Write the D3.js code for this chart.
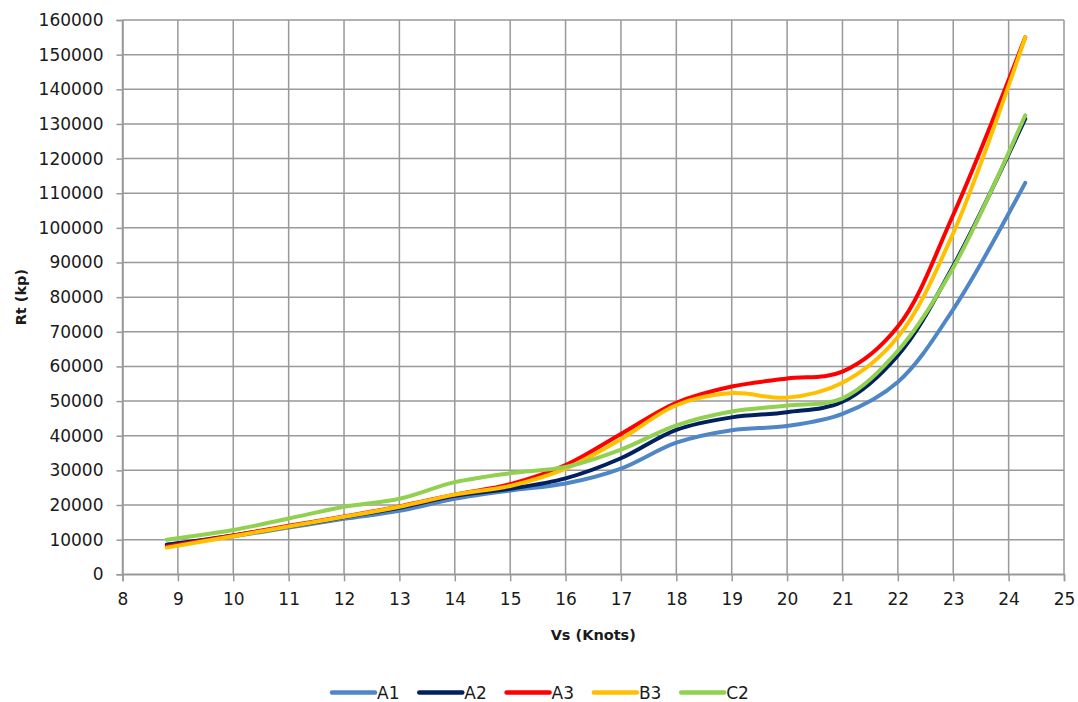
<!DOCTYPE html>
<html>
<head>
<meta charset="utf-8">
<script src="https://cdn.jsdelivr.net/npm/d3@7"></script>
<style>
  html, body { margin: 0; padding: 0; background: #fff; }
  svg { display: block; }
  text { font-family: "DejaVu Sans", sans-serif; fill: #1a1a1a; }
</style>
</head>
<body>
<svg id="chart" width="1078" height="702"></svg>
<script>
// ---- data ----
const speeds = [8.8, 10, 11, 12, 13, 14, 15, 16, 17, 18, 19, 20, 21, 22, 23, 24.3];
const seriesNames = ["A1", "A2", "A3", "B3", "C2"];
const A1 = [8500, 11000, 13500, 16000, 18300, 21800, 24200, 26200, 30500, 38000, 41600, 42800, 46300, 55500, 76500, 113000];
const A2 = [8500, 11200, 13800, 16500, 19200, 22700, 24700, 27700, 33500, 41700, 45300, 46800, 49800, 63200, 89000, 131500];
const A3 = [8000, 11200, 14000, 16700, 19600, 23000, 26000, 31500, 40500, 49500, 54200, 56500, 58500, 71500, 103800, 155000];
const B3 = [7700, 11000, 13800, 16600, 19500, 23000, 25500, 30500, 39000, 48800, 52300, 51000, 55300, 68500, 98500, 155000];
const C2 = [10000, 12800, 16100, 19500, 21800, 26600, 29200, 31000, 36000, 43000, 47000, 48700, 50800, 64500, 88500, 132500];
const seriesColors = ["#4F86C6", "#002060", "#FF0000", "#FFC000", "#92D050"];
const xTicks = d3.range(8, 26, 1);
const yTicks = d3.range(0, 160001, 10000);

const seriesValues = [A1, A2, A3, B3, C2];
const series = seriesNames.map((name, i) => ({
  name, color: seriesColors[i],
  points: speeds.map((s, j) => ({ x: s, y: seriesValues[i][j] }))
}));

// ---- layout ----
const svg = d3.select("#chart");
const plotL = 122.5, plotR = 1064, plotT = 20, plotB = 574.3;
const x = d3.scaleLinear().domain([8, 25]).range([plotL, plotR]);
const y = d3.scaleLinear().domain([0, 160000]).range([plotB, plotT]);

const gridColor = "#999999";

// grid
svg.append("g").selectAll("line").data(xTicks).join("line")
  .attr("x1", d => x(d)).attr("x2", d => x(d))
  .attr("y1", plotT).attr("y2", plotB)
  .attr("stroke", gridColor).attr("stroke-width", 1.5);
svg.append("g").selectAll("line").data(yTicks).join("line")
  .attr("x1", plotL).attr("x2", plotR)
  .attr("y1", d => y(d)).attr("y2", d => y(d))
  .attr("stroke", gridColor).attr("stroke-width", 1.5);

// axes
const xAxis = d3.axisBottom(x).tickValues(xTicks).tickSize(7).tickPadding(12).tickFormat(d3.format("d"));
const gx = svg.append("g").attr("transform", `translate(0,${plotB})`).call(xAxis);
gx.select(".domain").attr("stroke", gridColor).attr("stroke-width", 1.5);
gx.selectAll(".tick line").attr("stroke", gridColor).attr("stroke-width", 1.5);
gx.selectAll(".tick text").attr("font-size", 17).attr("font-family", "DejaVu Sans").attr("fill", "#1a1a1a");

const yAxis = d3.axisLeft(y).tickValues(yTicks).tickSize(6).tickPadding(13).tickFormat(d3.format("d"));
const gy = svg.append("g").attr("transform", `translate(${plotL},0)`).call(yAxis);
gy.select(".domain").attr("stroke", gridColor).attr("stroke-width", 1.5);
gy.selectAll(".tick line").attr("stroke", gridColor).attr("stroke-width", 1.5);
gy.selectAll(".tick text").attr("font-size", 17).attr("font-family", "DejaVu Sans").attr("fill", "#1a1a1a");

// axis titles
svg.append("text")
  .attr("x", (plotL + plotR) / 2).attr("y", 640)
  .attr("text-anchor", "middle").attr("font-size", 14.5).attr("font-weight", "bold")
  .text("Vs (Knots)");
svg.append("text")
  .attr("transform", `translate(26,${(plotT + plotB) / 2}) rotate(-90)`)
  .attr("text-anchor", "middle").attr("font-size", 14.5).attr("font-weight", "bold")
  .text("Rt (kp)");

// lines
const line = d3.line().x(d => x(d.x)).y(d => y(d.y)).curve(d3.curveCatmullRom.alpha(0.5));
svg.append("g").selectAll("path").data(series).join("path")
  .attr("d", d => line(d.points))
  .attr("fill", "none")
  .attr("stroke", d => d.color)
  .attr("stroke-width", 4)
  .attr("stroke-linecap", "round")
  .attr("stroke-linejoin", "round");

// legend
const legendX0 = 332, legendStep = 87.3, legendY = 692.5;
const lg = svg.append("g").selectAll("g").data(series).join("g")
  .attr("transform", (d, i) => `translate(${legendX0 + i * legendStep},${legendY})`);
lg.append("line").attr("x1", 0).attr("x2", 43).attr("y1", 0).attr("y2", 0)
  .attr("stroke", d => d.color).attr("stroke-width", 4.5).attr("stroke-linecap", "round");
lg.append("text").attr("x", 45).attr("y", 6.5).attr("font-size", 17).text(d => d.name);
</script>
</body>
</html>
